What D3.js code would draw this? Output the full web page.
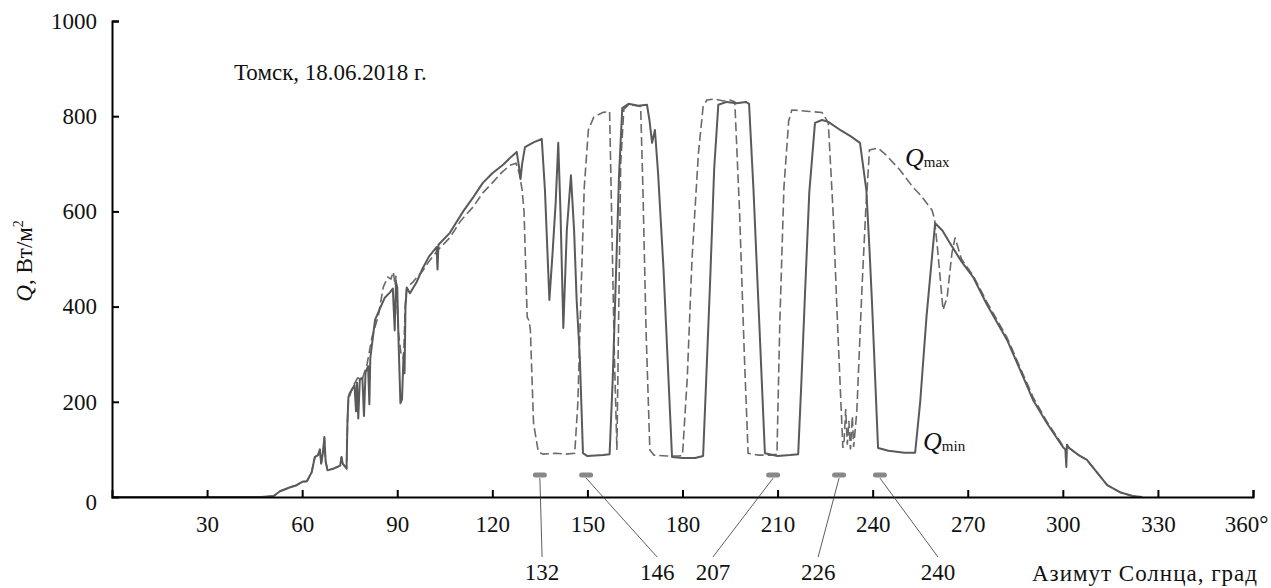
<!DOCTYPE html>
<html>
<head>
<meta charset="utf-8">
<script src="https://cdn.jsdelivr.net/npm/d3@7"></script>
<style>
  body { margin: 0; background: #fff; }
  text { font-family: "Liberation Serif", "DejaVu Serif", serif; fill: #111; }
</style>
</head>
<body>
<div id="chart"></div>
<script>
// Q_min (solid) : [azimuth, Q]
var qMin = [[0,0],[47,0],[51,2],[53,12],[56,20],[58,24],[60,32],[61.5,33],[63,52],[64,84],[65,88],[65.6,100],[66,70],[66.6,95],[67,126],[67.4,75],[68,56],[70,60],[72,66],[72.4,84],[72.8,70],[73.4,65],[74,60],[74.3,160],[74.6,210],[75,218],[76.5,235],[77,180],[77.3,240],[77.7,165],[78.2,248],[79,250],[79.5,170],[80,262],[80.8,275],[81.2,195],[81.5,292],[83,372],[84.6,397],[86,418],[87.7,430],[88.6,438],[89.2,350],[89.6,450],[90,440],[90.4,330],[91,197],[91.5,205],[92,300],[92.3,260],[92.6,400],[93,440],[94,428],[96,450],[98,480],[100,505],[102.4,525],[102.7,478],[103,530],[106.6,555],[110.8,600],[114,630],[117,660],[120,680],[123.4,698],[126,715],[127.7,725],[128.5,690],[128.9,668],[129.4,700],[130.3,735],[133,745],[135.6,752],[136.6,645],[138,414],[139,512],[140,620],[140.8,744],[141.5,600],[142.4,355],[143.5,560],[144.8,676],[145.8,560],[146.6,414],[147.6,294],[148.6,92],[150,86],[155,88],[157,90],[158,250],[158.7,400],[160,680],[161,817],[163,826],[166,822],[168.8,824],[169.6,790],[170.4,744],[171.3,771],[172.3,680],[174,480],[176.7,84],[180,82],[184,82],[186.5,86],[187.5,250],[188.7,450],[190,690],[191.3,824],[194,830],[197,827],[200,830],[201,826],[202.4,645],[204,400],[206,92],[210,86],[214,88],[216.5,90],[217.5,240],[218.7,435],[220,640],[221.8,786],[224,792],[226,788],[230,770],[233,758],[236,744],[238,645],[239,520],[239.8,407],[241.7,103],[245,97],[250,93],[253.4,93],[255,200],[257,380],[259.7,575],[262,560],[264.4,533],[268,495],[271.7,462],[276,405],[282.4,330],[286,275],[290.6,204],[295,155],[300,105],[300.8,100],[301.1,63],[301.3,110],[302,103],[305,88],[307.6,78],[310,58],[314,25],[318,10],[322,2],[325,0]];

// Q_max (dashed) : [azimuth, Q]
var qMax = [[74.6,205],[76,232],[77.5,250],[79,248],[80.5,280],[82,335],[84,380],[85.6,441],[87,462],[88,458],[88.8,473],[89.3,445],[89.6,465],[90.3,350],[91.2,300],[92,290],[92.5,400],[93,440],[95,452],[98,475],[100,495],[103,520],[106.6,545],[110,580],[114,610],[117,639],[120,660],[123,682],[125.6,697],[127.5,701],[128.5,680],[129.4,645],[130,600],[131,378],[131.6,370],[132,351],[133,155],[134.5,95],[136,90],[140,92],[143,90],[146,92],[147,200],[147.7,365],[149,650],[150.3,771],[152,798],[153,802],[155,808],[157,810],[157.5,640],[158.5,300],[159.3,99],[159.8,350],[160.5,700],[161.5,815],[163,824],[166,822],[166.8,820],[167.5,650],[168.5,350],[169.7,99],[171,88],[175,86],[179,86],[180,88],[181.5,250],[183,500],[185,720],[186.5,820],[187.7,834],[190,836],[193,832],[195,834],[196.5,830],[198,600],[199.5,300],[200.7,92],[204,88],[208,88],[209.8,90],[210.7,365],[212,650],[213.5,790],[214.5,813],[217,812],[220,810],[224,808],[226,786],[227.5,600],[229,350],[230.6,103],[231,120],[231.5,185],[232,110],[232.5,160],[233,100],[233.6,170],[234,105],[235,180],[236.6,435],[237.8,600],[239,729],[241.7,733],[244,720],[248.6,687],[252.7,651],[255,635],[258.7,603],[259.5,585],[260.6,512],[262.2,393],[263.5,420],[265,512],[266,545],[268,500],[271.7,465],[276,410],[282.4,335],[286,280],[290.6,210],[295,158],[300,108],[302,103],[305,88],[307.6,78],[310,58],[314,25],[318,10],[322,2],[325,0]];

// shade markers and their labels
var markAz = [135, 149.6, 208.6, 229.4, 242.3];
var markLevel = 46;
var markLabels = ["132", "146", "207", "226", "240"];
var labelAz = [135.7, 172, 189.6, 222.8, 260.6];

var xTicks = [30, 60, 90, 120, 150, 180, 210, 240, 270, 300, 330, 360];
var yTicks = [0, 200, 400, 600, 800, 1000];

var margin = {top: 21, right: 18, bottom: 91, left: 112},
width = 1271 - margin.left - margin.right,
height = 588 - margin.top - margin.bottom;

var fs = "23px";

// qMax starts where the two curves separate
var qMaxFull = qMin.filter(function(d) { return d[0] < 74.6; }).concat(qMax);

var x = d3.scaleLinear().domain([0, 360]).range([0, width]);
var y = d3.scaleLinear().domain([0, 1000]).range([height, 0]);

var svg = d3.select("#chart")
.append("svg")
.attr("width", width + margin.left + margin.right)
.attr("height", height + margin.top + margin.bottom)
.append("g")
.attr("transform", "translate(" + margin.left + "," + margin.top + ")");

var line = d3.line()
.x(function(d) { return x(d[0]); })
.y(function(d) { return y(d[1]); });

svg.append("path")
.datum(qMaxFull)
.attr("fill", "none")
.attr("stroke", "#6a6a6a")
.attr("stroke-width", 1.6)
.attr("stroke-dasharray", "9,4")
.attr("d", line);

svg.append("path")
.datum(qMin)
.attr("fill", "none")
.attr("stroke", "#5a5a5a")
.attr("stroke-width", 2)
.attr("stroke-linejoin", "round")
.attr("d", line);

// axes
var xAxis = d3.axisBottom(x)
.tickValues(xTicks)
.tickSize(-7)
.tickPadding(19)
.tickFormat(function(d) { return d === 360 ? "360°" : d; });

var gx = svg.append("g")
.attr("transform", "translate(0," + height + ")")
.call(xAxis);
gx.select(".domain").attr("stroke", "#000").attr("stroke-width", 2);
gx.selectAll(".tick line").attr("stroke", "#000").attr("stroke-width", 2);
gx.selectAll(".tick text")
.style("font-size", fs)
.attr("fill", "#111")
.attr("dx", function(d) { return d === 360 ? "-0.3em" : 0; });

var yAxis = d3.axisLeft(y)
.tickValues(yTicks)
.tickSize(-7)
.tickPadding(15)
.tickFormat(d3.format("d"));

var gy = svg.append("g").call(yAxis);
gy.select(".domain").attr("stroke", "#000").attr("stroke-width", 2);
gy.selectAll(".tick line").attr("stroke", "#000").attr("stroke-width", 2);
gy.selectAll(".tick text")
.style("font-size", fs)
.attr("fill", "#111")
.attr("dy", function(d) { return d === 0 ? "0.55em" : "0.32em"; });
gy.selectAll(".tick").filter(function(d) { return d === 0; }).select("line").remove();

// markers + leader lines
var marks = markAz.map(function(a, i) { return {az: a, label: markLabels[i], lab: labelAz[i]}; });

svg.selectAll(".lead")
.data(marks)
.enter().append("line")
.attr("class", "lead")
.attr("x1", function(d) { return x(d.az); })
.attr("y1", y(markLevel) + 3)
.attr("x2", function(d) { return x(d.lab); })
.attr("y2", height + 60)
.attr("stroke", "#333")
.attr("stroke-width", 0.8);

svg.selectAll(".mark")
.data(marks)
.enter().append("rect")
.attr("class", "mark")
.attr("x", function(d) { return x(d.az) - 7; })
.attr("y", y(markLevel) - 2.5)
.attr("width", 14)
.attr("height", 5)
.attr("rx", 2.5)
.attr("fill", "#888");

svg.selectAll(".mlab")
.data(marks)
.enter().append("text")
.attr("class", "mlab")
.attr("x", function(d) { return x(d.lab); })
.attr("y", height + 83)
.attr("text-anchor", "middle")
.style("font-size", fs)
.text(function(d) { return d.label; });

// texts
svg.append("text")
.attr("x", width + 5)
.attr("y", height + 84)
.attr("text-anchor", "end")
.style("font-size", fs)
.style("letter-spacing", "1px")
.text("Азимут Солнца, град");

svg.append("text")
.attr("x", x(38.5))
.attr("y", y(877))
.style("font-size", fs)
.text("Томск, 18.06.2018 г.");

svg.append("text")
.attr("transform", "translate(" + (-80) + "," + y(496) + ") rotate(-90)")
.attr("text-anchor", "middle")
.style("font-size", fs)
.html('<tspan font-style="italic">Q</tspan>, Вт/м<tspan dy="-9" font-size="14px">2</tspan>');

var sub = [{t: "max", az: 250.2, q: 695}, {t: "min", az: 255.9, q: 99}];
svg.selectAll(".qlab")
.data(sub)
.enter().append("text")
.attr("class", "qlab")
.attr("x", function(d) { return x(d.az); })
.attr("y", function(d) { return y(d.q); })
.style("font-size", "26px")
.html(function(d) { return '<tspan font-style="italic">Q</tspan><tspan font-size="15px" dy="1">' + d.t + '</tspan>'; });
</script>
</body>
</html>
